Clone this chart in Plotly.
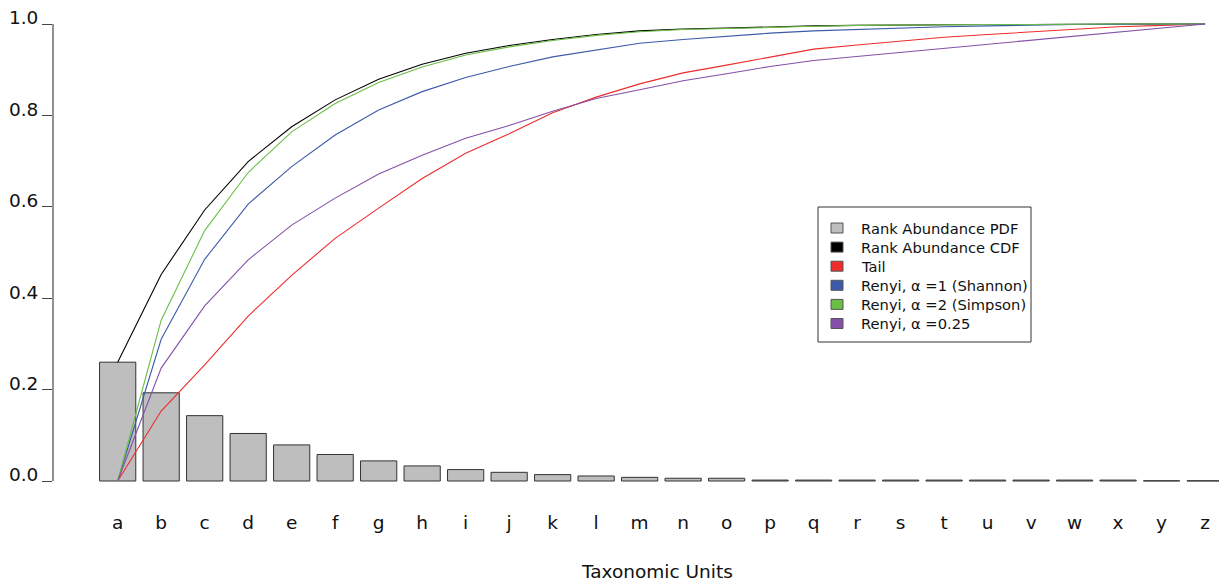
import plotly.graph_objects as go

# Taxonomic units, ranked by abundance
units = list("abcdefghijklmnopqrstuvwxyz")

# Rank abundance PDF (bar heights)
pdf = [0.260, 0.193, 0.143, 0.104, 0.079, 0.058, 0.044, 0.033, 0.025, 0.019,
       0.014, 0.011, 0.008, 0.006, 0.006, 0.002, 0.002, 0.002, 0.002, 0.002,
       0.002, 0.002, 0.002, 0.002, 0.0005, 0.0005]

# Cumulative curves
cdf = [0.260, 0.452, 0.593, 0.699, 0.775, 0.834, 0.879, 0.912, 0.936, 0.953,
       0.966, 0.977, 0.985, 0.989, 0.991, 0.994, 0.996, 0.997, 0.998, 0.999,
       0.999, 0.999, 1.000, 1.000, 1.000, 1.000]
tail = [0.000, 0.153, 0.254, 0.361, 0.450, 0.531, 0.597, 0.662, 0.717, 0.760,
        0.806, 0.840, 0.869, 0.893, 0.910, 0.928, 0.945, 0.954, 0.963, 0.971,
        0.977, 0.983, 0.989, 0.994, 0.997, 1.000]
renyi_shannon = [0.000, 0.310, 0.485, 0.606, 0.688, 0.757, 0.812, 0.852, 0.883, 0.907,
                 0.928, 0.943, 0.958, 0.966, 0.973, 0.980, 0.985, 0.988, 0.992, 0.994,
                 0.996, 0.998, 0.999, 0.999, 1.000, 1.000]
renyi_simpson = [0.000, 0.352, 0.548, 0.675, 0.764, 0.826, 0.872, 0.906, 0.932, 0.950,
                 0.964, 0.975, 0.983, 0.988, 0.990, 0.993, 0.995, 0.997, 0.998, 0.999,
                 0.999, 0.999, 1.000, 1.000, 1.000, 1.000]
renyi_025 = [0.000, 0.247, 0.383, 0.484, 0.560, 0.619, 0.672, 0.713, 0.750, 0.778,
             0.809, 0.837, 0.856, 0.876, 0.891, 0.907, 0.920, 0.929, 0.938, 0.947,
             0.956, 0.965, 0.974, 0.983, 0.992, 1.000]

y_ticks = [0.0, 0.2, 0.4, 0.6, 0.8, 1.0]
y_tick_text = ["0.0", "0.2", "0.4", "0.6", "0.8", "1.0"]

FONT = "DejaVu Sans, Arial, sans-serif"
W, H = 1219, 583
L, R, T, B = 53, 0, 14, 92
PW, PH = W - L - R, H - T - B

BAR_FILL = "#BEBEBE"
EDGE = "#333333"
series = [
    ("Rank Abundance CDF", cdf, "#000000"),
    ("Tail", tail, "#EE2C2C"),
    ("Renyi, \u03b1 =1 (Shannon)", renyi_shannon, "#3C5AA8"),
    ("Renyi, \u03b1 =2 (Simpson)", renyi_simpson, "#6BBE45"),
    ("Renyi, \u03b1 =0.25", renyi_025, "#8450A8"),
]

fig = go.Figure()

fig.add_trace(go.Bar(
    x=units, y=pdf, width=0.833, name="Rank Abundance PDF",
    marker=dict(color=BAR_FILL, line=dict(color=EDGE, width=1)),
    showlegend=False, hoverinfo="x+y",
))

for name, vals, col in series:
    fig.add_trace(go.Scatter(
        x=units, y=vals, mode="lines", name=name,
        line=dict(color=col, width=1.1), showlegend=False,
    ))


def px_x(p):
    return (p - L) / PW


def px_y(p):
    return (H - B - p) / PH


# legend: frame, colour keys and labels
fig.add_shape(type="rect", xref="paper", yref="paper",
              x0=px_x(818), x1=px_x(1031), y0=px_y(342), y1=px_y(207),
              line=dict(color="#333333", width=1), fillcolor="rgba(0,0,0,0)")

legend_items = [("Rank Abundance PDF", BAR_FILL)] + [(n, c) for n, _, c in series]
for i, (name, col) in enumerate(legend_items):
    cy = 228 + i * 19.1
    fig.add_shape(type="rect", xref="paper", yref="paper",
                  x0=px_x(831), x1=px_x(843), y0=px_y(cy + 5), y1=px_y(cy - 5),
                  line=dict(color="#555555", width=1), fillcolor=col)
    fig.add_annotation(text=name, xref="paper", yref="paper",
                       x=px_x(859), y=px_y(cy), xanchor="left", yanchor="middle",
                       showarrow=False,
                       font=dict(family=FONT, size=14.7, color="#111111"))

# left axis line spanning the 0..1 range
fig.add_shape(type="line", xref="paper", yref="y", x0=0, x1=0, y0=0, y1=1,
              line=dict(color="#222222", width=1))

fig.add_annotation(text="Taxonomic Units", xref="paper", yref="paper",
                   x=px_x(657), y=px_y(571), xanchor="center", yanchor="middle",
                   showarrow=False, font=dict(family=FONT, size=18.5, color="#111111"))

pad = 10 / 457
fig.update_layout(
    width=W, height=H, autosize=False,
    margin=dict(l=L, r=R, t=T, b=B, pad=0),
    paper_bgcolor="white", plot_bgcolor="white",
    barmode="overlay", showlegend=False,
    font=dict(family=FONT, color="#111111"),
    xaxis=dict(type="category", range=[-1.487, 25.32], showgrid=False,
               showline=False, zeroline=False, ticks="",
               tickfont=dict(family=FONT, size=18.5, color="#111111"),
               ticklabelstandoff=18),
    yaxis=dict(range=[-pad, 1 + pad], tickvals=y_ticks, ticktext=y_tick_text,
               showgrid=False, showline=False, zeroline=False,
               ticks="outside", ticklen=10, tickwidth=1, tickcolor="#444444",
               tickfont=dict(family=FONT, size=18.5, color="#111111"),
               ticklabelshift=-6),
)

fig.write_html("out.html")
